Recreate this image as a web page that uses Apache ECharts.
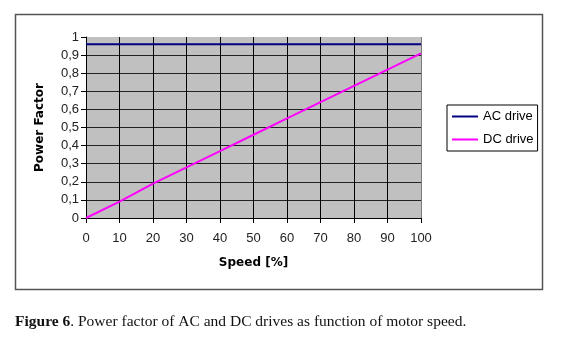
<!DOCTYPE html>
<html>
<head>
<meta charset="utf-8">
<script src="https://cdn.jsdelivr.net/npm/echarts@6/dist/echarts.min.js"></script>
<style>
  html, body { margin: 0; padding: 0; background: #fff; }
  #chart { width: 568px; height: 338px; }
</style>
</head>
<body>
<div id="chart"></div>
<script>
// Motor speed in percent of rated speed
const speeds = [0, 10, 20, 30, 40, 50, 60, 70, 80, 90, 100];
// Power factor of each drive type at those speeds
const acDrive = [0.96, 0.96, 0.96, 0.96, 0.96, 0.96, 0.96, 0.96, 0.96, 0.96, 0.96];
const dcDrive = [0, 0.09, 0.19, 0.28, 0.37, 0.46, 0.55, 0.64, 0.73, 0.82, 0.91];
const seriesNames = ['AC drive', 'DC drive'];

const chart = echarts.init(document.getElementById('chart'), null, { renderer: 'canvas' });

const pairs = (xs, ys) => xs.map((x, i) => [x, ys[i]]);
const sans = 'Arial, "Liberation Sans", sans-serif';
const axisFont = { fontFamily: sans, fontSize: 13, color: '#222' };
const titleFont = { fontFamily: '"DejaVu Sans", sans-serif', fontSize: 12, fontWeight: 'bold', color: '#000' };

// Gridline colours, cycled from the axis minimum upward; the outermost line
// of the plot frame is drawn softer than the inner grid.
const xGridColors = ['#000', '#000', '#000', '#000', '#000', '#000', '#000', '#000', '#000', '#000', '#7a7a7a'];
const yGridColors = ['#000', '#222', '#222', '#222', '#222', '#222', '#222', '#222', '#222', '#222', '#c0c0c0'];

chart.setOption({
  backgroundColor: '#fff',
  animation: false,
  grid: {
    left: 86, top: 37, right: 147, bottom: 120,
    show: true, backgroundColor: '#c0c0c0', borderWidth: 0
  },
  xAxis: {
    type: 'value', min: 0, max: 100, interval: 10,
    name: 'Speed [%]', nameLocation: 'middle', nameGap: 39,
    nameTextStyle: titleFont,
    axisLine: { show: true, onZero: false, lineStyle: { color: '#000', width: 1 } },
    axisTick: { show: true, length: 5, lineStyle: { color: '#000' } },
    axisLabel: Object.assign({ margin: 14 }, axisFont),
    splitLine: { show: true, lineStyle: { color: xGridColors, width: 1 } }
  },
  yAxis: {
    type: 'value', min: 0, max: 1, interval: 0.1,
    name: 'Power Factor', nameLocation: 'middle', nameGap: 40,
    nameTextStyle: titleFont,
    axisLine: { show: true, lineStyle: { color: '#000', width: 1 } },
    axisTick: { show: true, length: 5, lineStyle: { color: '#000' } },
    axisLabel: Object.assign({
      margin: 7,
      formatter: v => String(Math.round(v * 10) / 10).replace('.', ',')
    }, axisFont),
    splitLine: { show: true, lineStyle: { color: yGridColors, width: 1 } }
  },
  legend: {
    orient: 'vertical', left: 447, top: 105,
    padding: [5, 4, 5, 5], itemGap: 10,
    itemWidth: 26, itemHeight: 2,
    backgroundColor: '#fff', borderColor: '#000', borderWidth: 1,
    icon: 'rect',
    textStyle: { fontFamily: sans, fontSize: 13, color: '#000' },
    data: seriesNames
  },
  graphic: [
    {
      type: 'rect', z: -1, silent: true,
      shape: { x: 15.5, y: 14.5, width: 527, height: 275 },
      style: { fill: 'none', stroke: '#555', lineWidth: 1.5 }
    },
    {
      type: 'text', left: 15, top: 314, silent: true,
      style: {
        text: '{b|Figure 6}. Power factor of AC and DC drives as function of motor speed.',
        font: '15.5px "Liberation Serif", "DejaVu Serif", serif',
        fill: '#111',
        rich: { b: { fontWeight: 'bold', fontFamily: '"Liberation Serif", serif', fontSize: 15.5, fill: '#111' } }
      }
    }
  ],
  series: [
    {
      name: seriesNames[0], type: 'line', data: pairs(speeds, acDrive),
      showSymbol: false, lineStyle: { color: '#000080', width: 2 }, itemStyle: { color: '#000080' }
    },
    {
      name: seriesNames[1], type: 'line', data: pairs(speeds, dcDrive),
      showSymbol: false, lineStyle: { color: '#ff00ff', width: 2 }, itemStyle: { color: '#ff00ff' }
    }
  ]
});
</script>
</body>
</html>
